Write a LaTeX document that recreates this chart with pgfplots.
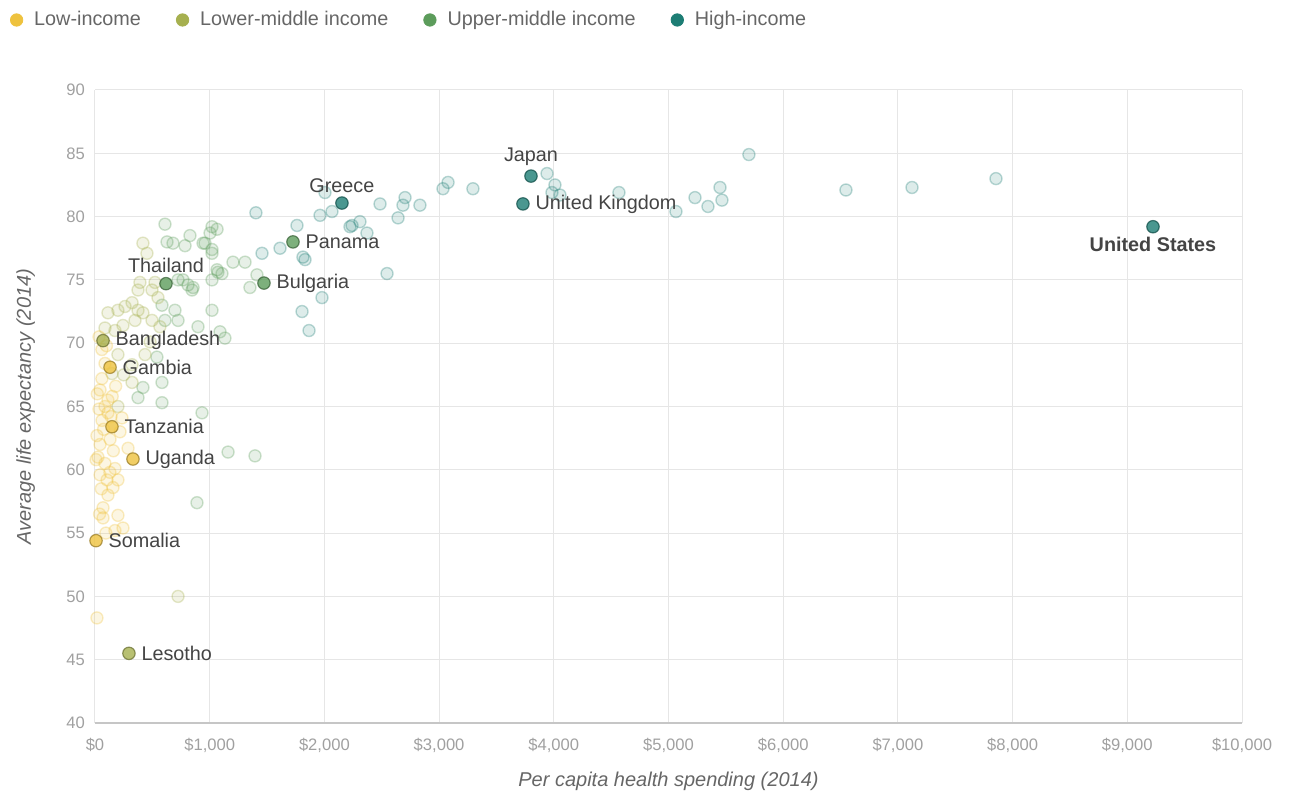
\documentclass[border=0pt]{standalone}
\usepackage{pgfplots}
\usepackage{pgfplotstable}
\pgfplotsset{compat=1.18}
\usepackage{fontspec}
\setmainfont{Liberation Sans}
\definecolor{lowc}{HTML}{EEC23E}
\definecolor{lmc}{HTML}{A6B04F}
\definecolor{umc}{HTML}{5C9C5B}
\definecolor{hic}{HTML}{1D7D74}
\definecolor{tickc}{HTML}{A0A0A0}
\definecolor{labc}{HTML}{666666}
\definecolor{txtc}{HTML}{444444}
\definecolor{gridc}{HTML}{E6E6E6}

% ---- faint points ----
\pgfplotstableread{
x y
87 68.4
113 65.5
87 65.0
113 64.5
44 66.3
61 63.9
26 61.0
87 60.5
174 60.1
200 59.2
105 59.2
157 58.6
70 57.0
70 56.2
200 56.4
244 55.4
174 55.2
17 48.3
44 62.0
9 60.8
131 62.4
218 63.0
288 61.7
235 64.1
44 59.6
113 58.0
17 62.7
60 67.2
35 64.8
150 65.8
35 70.5
60 69.5
100 69.8
20 66.0
75 63.2
160 61.5
130 59.8
55 58.5
95 55.0
40 56.5
180 66.6
140 64.2
}\lowfaint

\pgfplotstableread{
x y
418 77.9
453 77.1
523 74.8
392 74.8
375 74.2
497 74.2
549 73.6
323 73.2
262 72.9
200 72.6
113 72.4
375 72.6
418 72.4
497 71.8
349 71.8
244 71.4
87 71.2
174 71.0
200 69.1
436 69.1
323 68.3
148 67.6
323 66.9
200 65.0
724 50.0
566 71.3
250 67.5
480 70.1
}\lmfaint

\pgfplotstableread{
x y
1308 76.4
1203 76.4
1412 75.4
1351 74.4
1064 75.8
1107 75.5
1020 75.0
855 74.4
767 75.0
1020 72.6
898 71.3
1090 70.9
1133 70.4
1020 79.2
1003 78.7
1020 77.4
959 77.9
1064 79.0
610 79.4
680 77.9
785 77.7
828 78.5
628 78.0
942 77.9
1020 77.1
1072 75.6
811 74.6
846 74.2
724 75.0
933 64.5
1160 61.4
1395 61.1
889 57.4
724 71.8
584 73.0
697 72.6
610 71.8
584 66.9
584 65.3
418 66.5
375 65.7
540 68.9
}\umfaint

\pgfplotstableread{
x y
5701 84.9
3941 83.4
4010 82.5
3984 81.9
4054 81.7
3078 82.7
3034 82.2
3295 82.2
2703 81.5
2833 80.9
2485 81.0
2685 80.9
2642 79.9
2241 79.3
2310 79.6
2371 78.7
2005 81.9
2066 80.4
4568 81.9
5065 80.4
5231 81.5
5344 80.8
5449 82.3
5466 81.3
6547 82.1
7123 82.3
7855 83.0
1813 76.8
1831 76.6
1962 80.1
1761 79.3
2546 75.5
1979 73.6
1805 72.5
1866 71.0
2223 79.2
1403 80.3
1613 77.5
1456 77.1
}\hifaint

% ---- highlighted points ----
\pgfplotstableread[col sep=comma]{
x,y,lab
131,68.1,Gambia
148,63.4,Tanzania
331,60.85,Uganda
9,54.4,Somalia
}\lowhi
\pgfplotstableread[col sep=comma]{
x,y,lab
70,70.2,Bangladesh
296,45.5,Lesotho
}\lmhi
\pgfplotstableread[col sep=comma]{
x,y,lab
619,74.7,Thailand
}\umhiS
\pgfplotstableread[col sep=comma]{
x,y,lab
1726,78.0,Panama
1473,74.75,Bulgaria
}\umhiE
\pgfplotstableread[col sep=comma]{
x,y,lab
2153,81.07,Greece
3801,83.2,Japan
}\hihiS
\pgfplotstableread[col sep=comma]{
x,y,lab
3731,81.0,United Kingdom
}\hihiE
\pgfplotstableread[col sep=comma]{
x,y,lab
9224,79.2,United States
}\hihiN

\pgfplotsset{
  faint/.style={only marks, mark=*, mark size=3pt, forget plot,
    mark options={draw=#1, fill=#1, fill opacity=0.15, draw opacity=0.3, line width=0.7pt}},
  hilite/.style n args={4}{only marks, mark=*, mark size=3.1pt, forget plot,
    mark options={draw=#1!65!black, fill=#1, fill opacity=0.8, line width=0.6pt, draw opacity=0.75},
    nodes near coords, point meta=explicit symbolic,
    nodes near coords style={anchor=#2, xshift=#3, yshift=#4,
      font=\fontsize{9.9}{12}\selectfont, text=txtc, inner sep=3pt, opacity=1, text opacity=1}},
}

\begin{document}
\begin{tikzpicture}
\useasboundingbox (-47.5pt,-36pt) rectangle (598.5pt,361.5pt);
\begin{axis}[
  at={(0pt,0pt)}, anchor=south west,
  scale only axis, width=573.5pt, height=316.5pt,
  xmin=0, xmax=10000, ymin=40, ymax=90,
  xtick={0,1000,...,10000}, ytick={40,45,...,90},
  scaled x ticks=false,
  clip=false,
  grid=major,
  major grid style={draw=gridc, line width=0.5pt},
  axis lines*=left,
  y axis line style={draw=none},
  x axis line style={draw=gray!45, line width=0.9pt, -},
  major tick length=0pt,
  /pgf/number format/assume math mode=true,
  /pgf/number format/1000 sep={,},
  xticklabel={\$\pgfmathprintnumber{\tick}},
  tick label style={font=\fontsize{8.3}{10}\selectfont, text=tickc},
  xticklabel style={yshift=-4pt},
  yticklabel style={xshift=-1.5pt},
  xlabel={\itshape Per capita health spending (2014)},
  ylabel={\itshape Average life expectancy (2014)},
  label style={font=\fontsize{10}{12}\selectfont, text=labc},
  xlabel style={at={(axis description cs:0.5,-0.0916)}, anchor=center},
  ylabel style={at={(axis description cs:-0.0605,0.5)}, anchor=center},
  legend columns=4,
  legend style={at={(-0.0741,1.1106)}, anchor=west, draw=none, fill=none,
    inner sep=0pt, outer sep=0pt,
    font=\fontsize{9.9}{12}\selectfont, text=labc,
    nodes={inner sep=0pt},
    /tikz/every odd column/.append style={column sep=5.5pt},
    /tikz/every even column/.append style={column sep=17.5pt}},
]
\addlegendimage{legend image code/.code={\fill[lowc] (0pt,0pt) circle (3.1pt);}}
\addlegendentry{Low-income}
\addlegendimage{legend image code/.code={\fill[lmc] (0pt,0pt) circle (3.1pt);}}
\addlegendentry{Lower-middle income}
\addlegendimage{legend image code/.code={\fill[umc] (0pt,0pt) circle (3.1pt);}}
\addlegendentry{Upper-middle income}
\addlegendimage{legend image code/.code={\fill[hic] (0pt,0pt) circle (3.1pt);}}
\addlegendentry{High-income}

\addplot[faint=hic] table[x=x,y=y] {\hifaint};
\addplot[faint=umc] table[x=x,y=y] {\umfaint};
\addplot[faint=lmc] table[x=x,y=y] {\lmfaint};
\addplot[faint=lowc] table[x=x,y=y] {\lowfaint};

\addplot[hilite={lowc}{west}{3pt}{0pt}] table[x=x,y=y,meta=lab] {\lowhi};
\addplot[hilite={lmc}{west}{3pt}{0pt}] table[x=x,y=y,meta=lab] {\lmhi};
\addplot[hilite={umc}{south}{0pt}{2pt}] table[x=x,y=y,meta=lab] {\umhiS};
\addplot[hilite={umc}{west}{3pt}{0pt}] table[x=x,y=y,meta=lab] {\umhiE};
\addplot[hilite={hic}{south}{0pt}{2pt}] table[x=x,y=y,meta=lab] {\hihiS};
\addplot[hilite={hic}{west}{3pt}{0pt}] table[x=x,y=y,meta=lab] {\hihiE};
\addplot[hilite={hic}{north}{0pt}{-2pt}, nodes near coords style={font=\fontsize{9.9}{12}\selectfont\bfseries}] table[x=x,y=y,meta=lab] {\hihiN};
\end{axis}
\end{tikzpicture}
\end{document}
